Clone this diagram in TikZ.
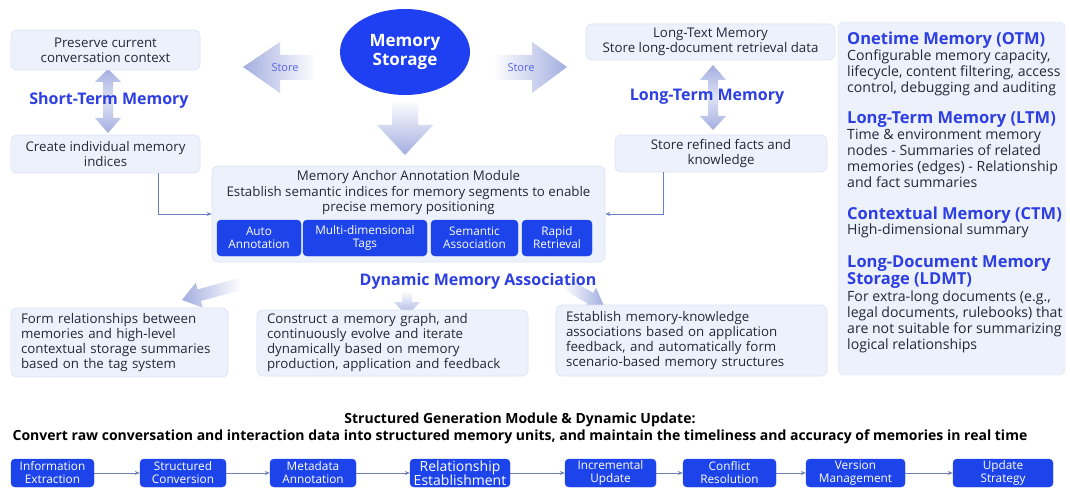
\documentclass[tikz,border=0pt]{standalone}
\usepackage{fontspec}
\setmainfont{Open Sans}
\usetikzlibrary{arrows.meta,shapes.geometric}
\definecolor{boxfill}{HTML}{EDF1FB}
\definecolor{boxdraw}{HTML}{DCE3F5}
\definecolor{txt}{HTML}{232838}
\definecolor{lblue}{HTML}{2D3FE3}
\definecolor{btnblue}{HTML}{1D44EA}
\definecolor{ellblue}{HTML}{1E3FF2}
\definecolor{arr}{HTML}{A3AEE0}
\definecolor{conn}{HTML}{6B7FC4}
\newcommand{\fs}[2]{\fontsize{#1}{#2}\selectfont}
\tikzset{
  lbox/.style={draw=boxdraw, fill=boxfill, rounded corners=6pt, line width=0.6pt,
    text=txt, align=center, inner sep=2pt, font=\fs{13.3}{15}},
  tbox/.style={lbox, align=left, inner xsep=10pt},
  btn/.style={fill=btnblue, draw=btnblue, rounded corners=4pt, text=white, align=center,
    inner sep=1pt, font=\fs{11.8}{13}},
  lbl/.style={text=lblue, font=\bfseries\fs{16}{18}},
  connline/.style={draw=conn, line width=0.7pt, -{Stealth[length=5pt,width=4pt]}},
  flowline/.style={draw=conn!80!gray, line width=0.8pt, -{Stealth[length=5pt,width=4pt]}},
  sect/.style={anchor=north west, align=left, text=lblue, font=\bfseries\fs{16.5}{17}, inner sep=0pt},
  sbody/.style={anchor=north west, align=left, text=txt, font=\fs{14.1}{16}, inner sep=0pt},
}
\begin{document}
\begin{tikzpicture}[x=1pt,y=-1pt]
\useasboundingbox (0,0) rectangle (1070,489);
\fill[white] (0,0) rectangle (1070,489);

% fat arrows
\shade[left color=arr, right color=white] (243,67) -- (280,42) -- (280,55) -- (316,55) -- (316,80) -- (280,80) -- (280,93) -- cycle;
\shade[left color=white, right color=arr] (567,67) -- (532,42) -- (532,55) -- (493,55) -- (493,80) -- (532,80) -- (532,93) -- cycle;
\shade[top color=white, bottom color=arr] (392,100) -- (418,100) -- (418,125) -- (433,125) -- (405,155) -- (377,125) -- (392,125) -- cycle;
\shade[top color=arr, bottom color=arr, middle color=arr!35] (108,69) -- (121,82) -- (113,82) -- (113,118) -- (121,118) -- (108,133) -- (95,118) -- (103,118) -- (103,82) -- (95,82) -- cycle;
\shade[top color=arr, bottom color=arr, middle color=arr!35] (713,65) -- (726,80) -- (718,80) -- (718,116) -- (726,116) -- (713,130) -- (700,116) -- (708,116) -- (708,80) -- (700,80) -- cycle;
\shade[left color=arr, right color=white] (182,300) -- (202.8,307.7) -- (200.9,301.0) -- (241.6,289.8) -- (238.4,278.2) -- (197.7,289.4) -- (195.8,282.7) -- cycle;
\shade[left color=white, right color=arr] (604,306) -- (584.1,308.4) -- (587.1,303.2) -- (563.0,289.2) -- (569.0,278.8) -- (593.1,292.8) -- (596.1,287.6) -- cycle;
\shade[top color=white, bottom color=arr] (402,291) -- (412,291) -- (412,302) -- (420,302) -- (407,316) -- (394,302) -- (402,302) -- cycle;

\node[text=lblue!80, font=\fs{11}{13}] (storeL) at (285,68) {Store};
\node[text=lblue!80, font=\fs{11}{13}] (storeR) at (521,68) {Store};

% central ellipse
\node[ellipse, fill=ellblue, minimum width=130pt, minimum height=86pt, inner sep=0pt,
  text=white, align=center, font=\bfseries\fs{17}{19}] (mem) at (405,52) {Memory\\Storage};

% short-term memory
\node[lbox, minimum width=189pt, minimum height=40pt] (stm1) at (105.5,50) {Preserve current\\conversation context};
\node[lbox, minimum width=189pt, minimum height=38pt] (stm2) at (105.5,154) {Create individual memory\\indices};
\node[lbl] (stml) at (109,100) {Short-Term Memory};

% long-term memory
\node[lbox, minimum width=249pt, minimum height=36pt] (ltm1) at (710.5,42) {Long-Text Memory\\Store long-document retrieval data};
\node[lbox, minimum width=212pt, minimum height=37pt] (ltm2) at (721,153.5) {Store refined facts and\\knowledge};
\node[lbl] (ltml) at (707,97) {Long-Term Memory};

% anchor module
\node[lbox, minimum width=393pt, minimum height=96pt] (anchor) at (408.5,214) {};
\node[text=txt, align=center, font=\fs{13.3}{15.5}] (anchort) at (408.5,193) {Memory Anchor Annotation Module\\Establish semantic indices for memory segments to enable\\precise memory positioning};
\node[btn, minimum width=84pt, minimum height=36pt] (b1) at (259,238) {Auto\\Annotation};
\node[btn, minimum width=124pt, minimum height=36pt] (b2) at (365,238) {Multi-dimensional\\Tags};
\node[btn, minimum width=87pt, minimum height=36pt] (b3) at (474.5,238) {Semantic\\Association};
\node[btn, minimum width=70pt, minimum height=36pt] (b4) at (557,238) {Rapid\\Retrieval};

\draw[connline] ([xshift=52.5pt]stm2.south) |- (anchor.west);
\draw[connline] ([xshift=-58pt]ltm2.south) |- (anchor.east);

\node[lbl] (dyn) at (478,281) {Dynamic Memory Association};

% bottom boxes
\node[tbox, text width=197pt, minimum height=69pt] (bot1) at (119.5,342.5) {Form relationships between\\memories and high-level\\contextual storage summaries\\based on the tag system};
\node[tbox, text width=251pt, minimum height=66pt] (bot2) at (392.5,343) {Construct a memory graph, and\\continuously evolve and iterate\\dynamically based on memory\\production, application and feedback};
\node[tbox, text width=251pt, minimum height=71pt] (bot3) at (691.5,340.5) {Establish memory-knowledge\\associations based on application\\feedback, and automatically form\\scenario-based memory structures};

% right panel
\node[draw=boxdraw, fill=boxfill, rounded corners=6pt, minimum width=227pt, minimum height=353pt] (panel) at (951.5,198.5) {};
\node[sect] (s1) at (847,32) {Onetime Memory (OTM)};
\node[sbody] (s1b) at (847,50) {Configurable memory capacity,\\lifecycle, content filtering, access\\control, debugging and auditing};
\node[sect] (s2) at (847,112) {Long-Term Memory (LTM)};
\node[sbody] (s2b) at (847,129) {Time \& environment memory\\nodes - Summaries of related\\memories (edges) - Relationship\\and fact summaries};
\node[sect] (s3) at (847,207) {Contextual Memory (CTM)};
\node[sbody] (s3b) at (847,224) {High-dimensional summary};
\node[sect] (s4) at (847,256) {Long-Document Memory\\Storage (LDMT)};
\node[sbody] (s4b) at (847,291) {For extra-long documents (e.g.,\\legal documents, rulebooks) that\\are not suitable for summarizing\\logical relationships};

% bottom title
\node[text=black, align=center, font=\bfseries\fs{14}{17}] (title) at (520,428) {Structured Generation Module \& Dynamic Update:\\Convert raw conversation and interaction data into structured memory units, and maintain the timeliness and accuracy of memories in real time};

% flow
\node[btn, minimum width=83pt, minimum height=28pt] (f1) at (52.5,473) {Information\\Extraction};
\node[btn, minimum width=86pt, minimum height=28pt] (f2) at (183,473) {Structured\\Conversion};
\node[btn, minimum width=86pt, minimum height=28pt] (f3) at (313,473) {Metadata\\Annotation};
\node[btn, minimum width=100pt, minimum height=28pt, font=\fs{14}{14}] (f4) at (460,473) {Relationship\\Establishment};
\node[btn, minimum width=91pt, minimum height=28pt] (f5) at (610.5,473) {Incremental\\Update};
\node[btn, minimum width=93pt, minimum height=28pt] (f6) at (729.5,473) {Conflict\\Resolution};
\node[btn, minimum width=99pt, minimum height=28pt] (f7) at (855.5,473) {Version\\Management};
\node[btn, minimum width=100pt, minimum height=28pt] (f8) at (1003,473) {Update\\Strategy};
\draw[flowline] (f1) -- (f2);
\draw[flowline] (f2) -- (f3);
\draw[flowline] (f3) -- (f4);
\draw[flowline] (f4) -- (f5);
\draw[flowline] (f5) -- (f6);
\draw[flowline] (f6) -- (f7);
\draw[flowline] (f7) -- (f8);
\end{tikzpicture}
\end{document}
